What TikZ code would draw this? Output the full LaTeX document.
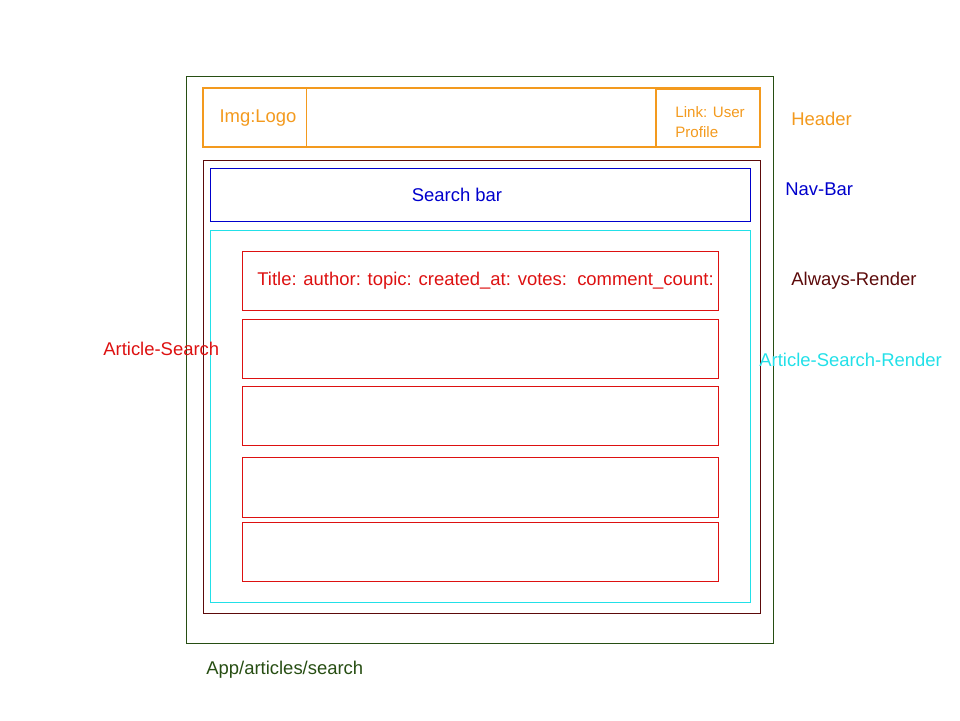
\documentclass[tikz,border=0pt]{standalone}
\usepackage{fontspec}
\setmainfont{Liberation Sans}
\usetikzlibrary{positioning}
\definecolor{appgreen}{HTML}{274E13}
\definecolor{hdrorange}{HTML}{F39A1E}
\definecolor{navblue}{HTML}{0000CC}
\definecolor{alwaysred}{HTML}{5C0A0A}
\definecolor{rendercyan}{HTML}{22E0E8}
\definecolor{artred}{HTML}{DD1111}
\begin{document}
\begin{tikzpicture}[x=0.02cm, y=-0.02cm,
  box/.style={draw, line width=0.5pt},
  lbl/.style={inner sep=0pt, font=\fontsize{10.5}{12}\selectfont},
  sml/.style={inner sep=0pt, align=left, font=\fontsize{8.6}{11}\selectfont}]
  \useasboundingbox (0,0) rectangle (960,720);
  % page
  \draw[box, appgreen] (186,76) rectangle (773,643);
  \node[lbl, appgreen, anchor=west] (app) at (206,670) {App/articles/search};
  % header
  \draw[box, hdrorange, line width=0.7pt] (203,88) rectangle (760,147);
  \draw[box, hdrorange] (306,88) -- (306,147);
  \draw[box, hdrorange, line width=1pt] (656,89) rectangle (760,147);
  \node[lbl, hdrorange] (logo) at (258,118) {Img:Logo};
  \node[sml, hdrorange, anchor=west] (link) at (675,122) {Link: User\\Profile};
  \node[lbl, hdrorange, anchor=west] (header) at (791,119) {Header};
  % always render
  \draw[box, alwaysred] (203,160) rectangle (760,613);
  \node[lbl, alwaysred, anchor=west] (always) at (791,281) {Always-Render};
  % nav bar
  \draw[box, navblue] (210,168) rectangle (750,221);
  \node[lbl, navblue] (search) at (457,195) {Search bar};
  \node[lbl, navblue, anchor=west] (nav) at (785,189) {Nav-Bar};
  % article search
  \draw[box, rendercyan] (210,230) rectangle (750,602);
  \foreach \ya/\yb in {251/310, 319/378, 386/445, 457/517, 522/581}
    \draw[box, artred] (242,\ya) rectangle (718,\yb);
  \node[lbl, artred, anchor=west] (title) at (257,281) {Title: author: topic: created\_at: votes:\ \ comment\_count:};
  \node[lbl, artred, anchor=west] (artsearch) at (103,349) {Article-Search};
  \node[lbl, rendercyan, anchor=west] (render) at (759,360) {Article-Search-Render};
\end{tikzpicture}
\end{document}
